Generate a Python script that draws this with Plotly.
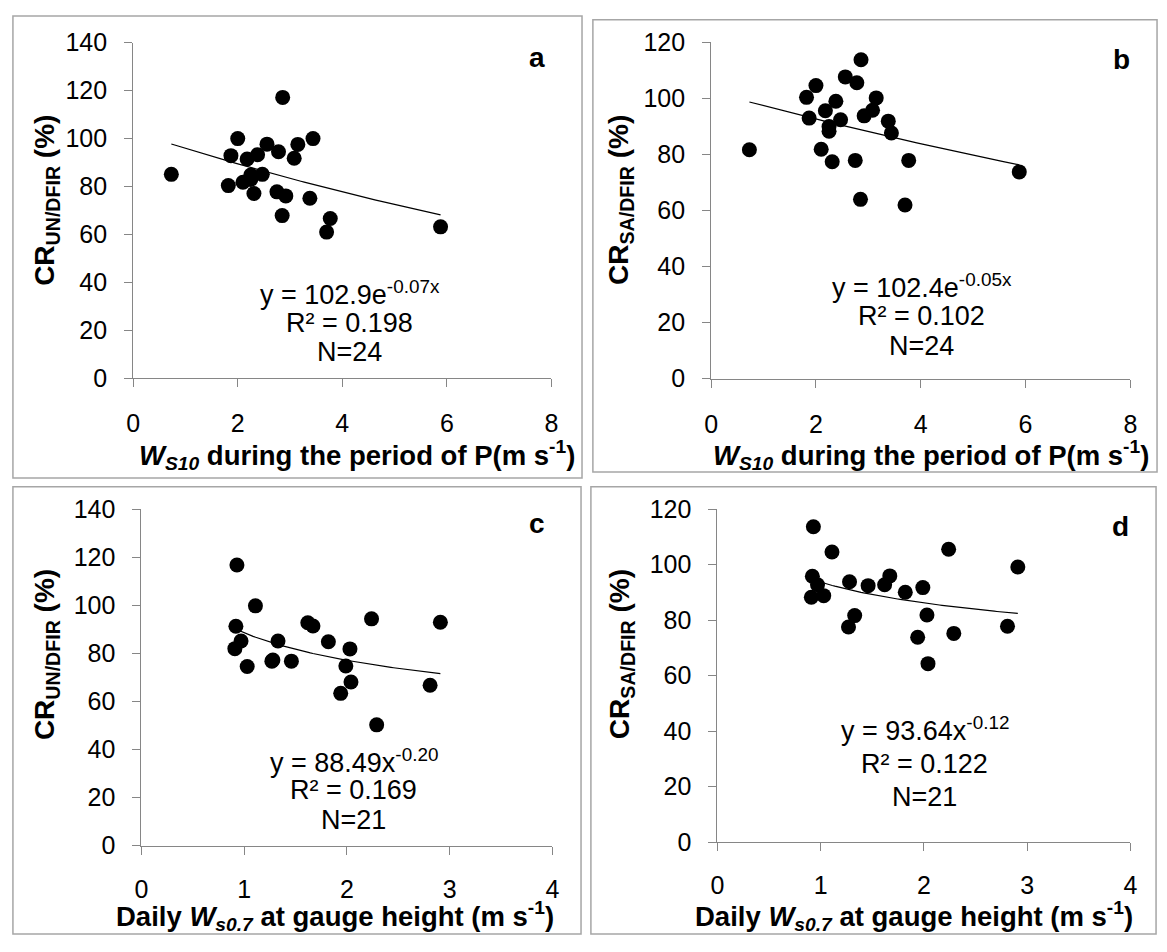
import numpy as np
import plotly.graph_objects as go

# ---------------- data ----------------
# panels a & b: wind speed at 10 m during precipitation (m/s)
ws10 = [0.73, 1.82, 1.87, 2.00, 2.10, 2.18, 2.25, 2.25, 2.31, 2.38, 2.47, 2.56,
        2.75, 2.78, 2.85, 2.86, 2.92, 3.08, 3.15, 3.38, 3.44, 3.70, 3.77, 5.88]
cr_un_a = [85.1, 80.4, 92.9, 100.0, 81.8, 91.5, 84.8, 83.0, 77.1, 93.3, 85.1, 97.7,
           77.8, 94.5, 67.9, 117.2, 76.1, 91.8, 97.6, 75.1, 100.0, 61.0, 66.7, 63.2]
cr_sa_b = [81.7, 100.4, 93.0, 104.6, 81.9, 95.6, 90.0, 88.3, 77.4, 99.0, 92.4, 107.7,
           77.9, 105.6, 64.0, 113.8, 93.8, 95.8, 100.2, 91.9, 87.7, 62.0, 77.9, 73.8]

# panels c & d: daily wind speed at gauge height (m/s)
ws07 = [0.91, 0.92, 0.93, 0.97, 1.03, 1.11, 1.27, 1.28, 1.33, 1.46, 1.62, 1.67,
        1.82, 1.94, 1.99, 2.03, 2.04, 2.24, 2.29, 2.81, 2.91]
cr_un_c = [81.9, 91.2, 116.7, 85.1, 74.5, 99.7, 76.7, 77.2, 85.1, 76.7, 92.7, 91.3,
           84.8, 63.3, 74.7, 81.8, 68.0, 94.3, 50.2, 66.7, 92.9]
cr_sa_d = [88.2, 95.8, 113.6, 92.7, 88.8, 104.5, 77.5, 93.8, 81.6, 92.4, 92.7, 95.9,
           90.0, 73.8, 91.7, 81.8, 64.3, 105.5, 75.2, 77.8, 99.1]

# trend-line equations printed on the chart
fit_a = (102.9, -0.07)   # exponential  y = a*exp(b x)
fit_b = (102.4, -0.05)   # exponential
fit_c = (88.49, -0.20)   # power        y = a*x^b
fit_d = (93.64, -0.12)   # power

panel_letters = ["a", "b", "c", "d"]
eq_texts = ["y = 102.9e<sup>-0.07x</sup>", "y = 102.4e<sup>-0.05x</sup>",
            "y = 88.49x<sup>-0.20</sup>", "y = 93.64x<sup>-0.12</sup>"]
r2_texts = ["R² = 0.198", "R² = 0.102", "R² = 0.169", "R² = 0.122"]
n_texts = ["N=24", "N=24", "N=21", "N=21"]
ytitles = ["<b>CR<sub>UN/DFIR</sub> (%)</b>", "<b>CR<sub>SA/DFIR</sub> (%)</b>",
           "<b>CR<sub>UN/DFIR</sub> (%)</b>", "<b>CR<sub>SA/DFIR</sub> (%)</b>"]
xtitle_top = "<b><i>W</i><sub><i>S10</i></sub> during the period of P(m s<sup>-1</sup>)</b>"
xtitle_bot = "<b>Daily <i>W</i><sub><i>s0.7</i></sub> at gauge height (m s<sup>-1</sup>)</b>"

# ---------------- figure ----------------
W, H = 1167, 952
FONT = "Liberation Sans, Arial, sans-serif"
AX = "#868686"


def px(x):
    return x / W


def py(y):
    return 1 - y / H


fig = go.Figure()

# plot areas in pixels: (left, right, top, bottom)
areas = [(127.7, 551.0, 29.6, 375.4),
         (712.7, 1137.0, 29.3, 375.7),
         (136.0, 552.0, 510.0, 856.7),
         (719.0, 1137.0, 510.0, 853.3)]
xranges = [[0, 8], [0, 8], [0, 4], [0, 4]]
xdticks = [2, 2, 1, 1]
yranges = [[0, 140], [0, 120], [0, 140], [0, 120]]
xstandoff = [15, 15, 13, 13]

series = [(ws10, cr_un_a, fit_a, "exp"), (ws10, cr_sa_b, fit_b, "exp"),
          (ws07, cr_un_c, fit_c, "pow"), (ws07, cr_sa_d, fit_d, "pow")]

for i, (xs, ys, (ca, cb), kind) in enumerate(series):
    sfx = "" if i == 0 else str(i + 1)
    xa, ya = "x" + sfx, "y" + sfx
    fig.add_trace(go.Scatter(x=xs, y=ys, mode="markers", xaxis=xa, yaxis=ya,
                             marker=dict(size=15, color="black"), showlegend=False))
    xf = np.linspace(min(xs), max(xs), 80)
    yf = ca * np.exp(cb * xf) if kind == "exp" else ca * xf ** cb
    fig.add_trace(go.Scatter(x=xf, y=yf, mode="lines", xaxis=xa, yaxis=ya,
                             line=dict(color="black", width=1.2), showlegend=False))
    l, r, t, b = areas[i]
    fig.layout["xaxis" + sfx] = dict(
        domain=[px(l), px(r)], anchor=ya, range=xranges[i], dtick=xdticks[i],
        showline=True, linecolor=AX, linewidth=1, ticks="outside", ticklen=8,
        tickcolor=AX, showgrid=False, zeroline=False, ticklabelstandoff=xstandoff[i],
        tickfont=dict(family=FONT, size=25, color="black"))
    fig.layout["yaxis" + sfx] = dict(
        domain=[py(b), py(t)], anchor=xa, range=yranges[i], dtick=20,
        showline=True, linecolor=AX, linewidth=1, ticks="outside", ticklen=8,
        tickcolor=AX, showgrid=False, zeroline=False, ticklabelstandoff=12,
        tickfont=dict(family=FONT, size=25, color="black"))

# panel frames
frames = [(6, 582, 2, 478), (593, 1164, 6, 472), (6, 581, 487, 948), (591, 1163, 487, 948)]
for (l, r, t, b) in frames:
    fig.add_shape(type="rect", xref="paper", yref="paper", x0=px(l), x1=px(r),
                  y0=py(b), y1=py(t), line=dict(color="#a6a6a6", width=1.5))

ann = []
letter_pos = [(536, 45), (1128, 47), (536, 525), (1127, 528)]
# equation block centres: (x, y_eq, y_r2, y_n)
eq_pos = [(347, 287, 318, 348), (926, 280, 311, 342),
          (351, 770, 800, 830), (929, 737, 773, 807)]
ytitle_pos = [(40, 192), (621, 192), (40, 660), (622, 660)]
xtitle_pos = [(354, 454), (935, 454), (332, 929), (918, 929)]
xtitle_size = [27.5, 27.5, 27.5, 27.5]
for i in range(4):
    lx, ly = letter_pos[i]
    ann.append(dict(x=px(lx), y=py(ly), text="<b>" + panel_letters[i] + "</b>",
                    font=dict(family=FONT, size=28, color="black")))
    ex, y1, y2, y3 = eq_pos[i]
    for txt, yy in ((eq_texts[i], y1), (r2_texts[i], y2), (n_texts[i], y3)):
        ann.append(dict(x=px(ex), y=py(yy), text=txt,
                        font=dict(family=FONT, size=27, color="black")))
    tx, ty = ytitle_pos[i]
    ann.append(dict(x=px(tx), y=py(ty), text=ytitles[i], textangle=-90,
                    font=dict(family=FONT, size=28, color="black")))
    xx, xy = xtitle_pos[i]
    ann.append(dict(x=px(xx), y=py(xy), text=xtitle_top if i < 2 else xtitle_bot,
                    font=dict(family=FONT, size=xtitle_size[i], color="black")))
for a in ann:
    a.update(xref="paper", yref="paper", showarrow=False, xanchor="center", yanchor="middle")

fig.update_layout(width=W, height=H, margin=dict(l=0, r=0, t=0, b=0),
                  paper_bgcolor="white", plot_bgcolor="white",
                  annotations=ann, showlegend=False)

fig.write_html("out.html", config={"displayModeBar": False},
               post_script="document.body.style.margin='0';document.body.style.overflow='hidden';")
